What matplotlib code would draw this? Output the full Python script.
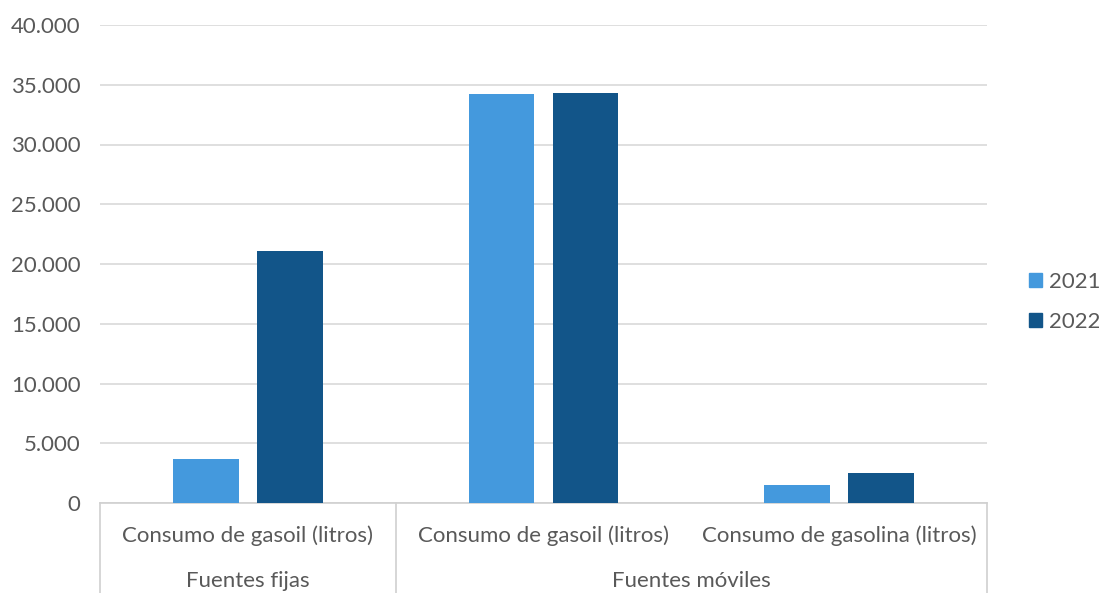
import numpy as np
import matplotlib.pyplot as plt
from matplotlib.ticker import FuncFormatter
from matplotlib.patches import Patch

# datos
categorias = ['Consumo de gasoil (litros)', 'Consumo de gasoil (litros)', 'Consumo de gasolina (litros)']
grupos = ['Fuentes fijas', 'Fuentes móviles']
grupo_de_cat = [0, 1, 1]
anios = ['2021', '2022']
valores_2021 = [3700, 34230, 1530]
valores_2022 = [21100, 34280, 2510]
colores = ['#4499dd', '#125589']

plt.rcParams['font.family'] = ['Lato', 'DejaVu Sans']
gris = '#595959'
fs = 16

fig = plt.figure(figsize=(10.99, 5.93), dpi=100)
ax = fig.add_axes([100/1099, 1 - 503/593, 887/1099, 478/593])

x = np.arange(len(categorias))
ancho = 0.223
off = 0.142
ax.bar(x - off, valores_2021, ancho, color=colores[0], zorder=3)
ax.bar(x + off, valores_2022, ancho, color=colores[1], zorder=3)

ax.set_xlim(-0.5, len(categorias) - 0.5)
ax.set_ylim(0, 40000)
ax.set_yticks(np.arange(0, 40001, 5000))
ax.yaxis.set_major_formatter(FuncFormatter(lambda v, p: f'{int(v):,}'.replace(',', '.')))
ax.tick_params(axis='y', length=0, labelsize=fs, labelcolor=gris, pad=14)
ax.grid(axis='y', color='#d9d9d9', linewidth=1.2, zorder=0)
ax.set_xticks([])
for s in ['top', 'right', 'left']:
    ax.spines[s].set_visible(False)
ax.spines['bottom'].set_color('#d0d0d0')
ax.spines['bottom'].set_linewidth(1.2)

# ejes de categorias en dos niveles
tr = ax.get_xaxis_transform()
bajo = -90 / 478
for i, c in enumerate(categorias):
    ax.text(i, -33 / 478, c, transform=tr, ha='center', va='center', fontsize=fs, color=gris)
for g, nombre in enumerate(grupos):
    idx = [i for i, k in enumerate(grupo_de_cat) if k == g]
    ax.text(np.mean(idx), -78 / 478, nombre, transform=tr, ha='center', va='center',
            fontsize=fs, color=gris)
seps = [-0.5] + [i + 0.5 for i in range(len(grupo_de_cat) - 1) if grupo_de_cat[i] != grupo_de_cat[i + 1]] + [len(categorias) - 0.5]
for s in seps:
    ax.plot([s, s], [0, bajo], transform=tr, color='#d0d0d0', linewidth=1.2, clip_on=False)

handles = [Patch(color=colores[0], label=anios[0]), Patch(color=colores[1], label=anios[1])]
fig.legend(handles=handles, loc='center left', bbox_to_anchor=(1029/1099, 1 - 302/593),
           frameon=False, fontsize=fs, labelcolor=gris, handlelength=0.6, handleheight=0.6,
           handletextpad=0.3, labelspacing=0.9, borderaxespad=0, borderpad=0)

fig.savefig('out.png', dpi=100)
